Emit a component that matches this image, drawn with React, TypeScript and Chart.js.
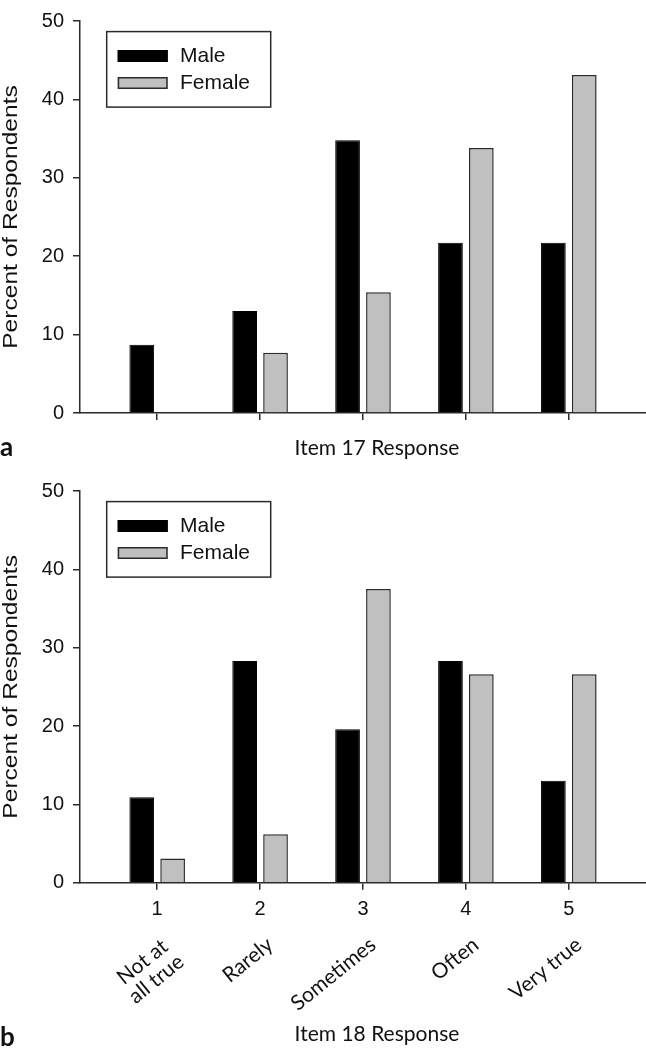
import React, { useEffect, useRef } from 'react';
import { Chart, registerables } from 'chart.js';

Chart.register(...registerables);

// ---------- data ----------
const responseCodes = [1, 2, 3, 4, 5];
const tickNumbers = ['1', '2', '3', '4', '5'];
const responseLabels = [['Not at', 'all true'], ['Rarely'], ['Sometimes'], ['Often'], ['Very true']];
const seriesNames = ['Male', 'Female'];
const male17 = [8.7, 13.0, 34.8, 21.7, 21.7];
const female17 = [0, 7.7, 15.4, 33.8, 43.1];
const male18 = [10.9, 28.3, 19.6, 28.3, 13.0];
const female18 = [3.1, 6.2, 37.5, 26.6, 26.6];
const yTicks = [0, 10, 20, 30, 40, 50];
const yTitle = 'Percent of Respondents';
const xTitle17 = 'Item 17 Response';
const xTitle18 = 'Item 18 Response';

// ---------- styles ----------
const MALE_FILL = '#000000';
const FEMALE_FILL = '#c0c0c0';
const BORDER = '#2b2b2b';
const AXIS = '#2b2b2b';
const TEXT = '#111111';
const ARIAL = '"Liberation Sans", Arial, sans-serif';
const CALIBRI = 'Lato, "Open Sans", sans-serif';

const decorPlugin = {
  id: 'decor',
  afterDraw(chart: any, _args: any, o: any) {
    const ctx = chart.ctx;
    const ca = chart.chartArea;
    const xs = chart.scales.x;
    const ys = chart.scales.y;
    ctx.save();

    // legend box
    const bx = ca.left + 26.7;
    const by = ys.getPixelForValue(50) + 10.6;
    ctx.lineWidth = 1.5;
    ctx.strokeStyle = AXIS;
    ctx.strokeRect(bx, by, 164, 75.5);
    chart.data.datasets.forEach((ds: any, i: number) => {
      const sy = by + 18.4 + i * 27;
      ctx.fillStyle = ds.backgroundColor;
      ctx.fillRect(bx + 11, sy, 50, 12);
      ctx.strokeStyle = ds.borderColor;
      ctx.lineWidth = 1.5;
      ctx.strokeRect(bx + 11.75, sy + 0.75, 48.5, 10.5);
      ctx.fillStyle = TEXT;
      ctx.font = `21px ${ARIAL}`;
      ctx.textAlign = 'left';
      ctx.textBaseline = 'middle';
      ctx.fillText(ds.label, bx + 73.3, sy + 6.5);
    });

    // y title (stretched along its length)
    ctx.save();
    ctx.translate(o.yTitleX, (ca.top + ca.bottom) / 2);
    ctx.rotate(-Math.PI / 2);
    ctx.scale(1.17, 1);
    ctx.font = `21px ${ARIAL}`;
    ctx.fillStyle = TEXT;
    ctx.textAlign = 'center';
    ctx.textBaseline = 'middle';
    ctx.fillText(yTitle, 0, 0);
    ctx.restore();

    // rotated category labels
    if (o.catLabels) {
      const th = (o.angle * Math.PI) / 180;
      ctx.font = `21px ${CALIBRI}`;
      ctx.fillStyle = TEXT;
      responseLabels.forEach((lines, i) => {
        const px = xs.getPixelForValue(responseCodes[i]) + o.catDx;
        const maxW = Math.max(...lines.map((l) => ctx.measureText(l).width));
        ctx.save();
        ctx.translate(px, o.catY);
        ctx.rotate(-th);
        ctx.textAlign = 'center';
        ctx.textBaseline = 'middle';
        lines.forEach((l, j) => ctx.fillText(l, -maxW / 2, j * o.catLh));
        ctx.restore();
      });
    }

    // x title
    ctx.font = `21px ${CALIBRI}`;
    ctx.fillStyle = TEXT;
    ctx.textAlign = 'center';
    ctx.textBaseline = 'alphabetic';
    ctx.fillText(o.xTitle, o.xTitleX, o.xTitleY);

    // panel label
    ctx.font = `bold 26px ${CALIBRI}`;
    ctx.textAlign = 'left';
    ctx.fillText(o.panel, 0, o.panelY);

    ctx.restore();
  },
};

function buildConfig(male: number[], female: number[], p: any) {
  return {
    type: 'bar',
    data: {
      datasets: [
        {
          label: seriesNames[0],
          data: responseCodes.map((c, i) => ({ x: c, y: male[i] })),
          backgroundColor: MALE_FILL,
          borderColor: '#000000',
          borderWidth: 1,
          categoryPercentage: 0.6,
          barPercentage: 0.8,
        },
        {
          label: seriesNames[1],
          data: responseCodes.map((c, i) => ({ x: c, y: female[i] })),
          backgroundColor: FEMALE_FILL,
          borderColor: BORDER,
          borderWidth: 1.5,
          categoryPercentage: 0.6,
          barPercentage: 0.8,
        },
      ],
    },
    options: {
      responsive: false,
      maintainAspectRatio: false,
      animation: false,
      layout: { padding: { top: p.padTop, left: 0, right: 0, bottom: 0 } },
      plugins: {
        legend: { display: false },
        tooltip: { enabled: false },
        decor: p.decor,
      },
      scales: {
        x: {
          type: 'linear',
          min: 0.25,
          max: 5.75,
          offset: false,
          afterBuildTicks: (s: any) => {
            s.ticks = responseCodes.map((v) => ({ value: v }));
          },
          afterFit: (s: any) => {
            s.height = p.xHeight;
          },
          ticks: {
            display: p.showNumbers,
            autoSkip: false,
            maxRotation: 0,
            padding: 8,
            color: TEXT,
            font: { family: ARIAL, size: 20 },
            callback: (v: number) => tickNumbers[responseCodes.indexOf(v)] ?? '',
          },
          grid: {
            display: true,
            offset: false,
            drawOnChartArea: false,
            drawTicks: true,
            tickLength: 7,
            color: AXIS,
            lineWidth: 1.5,
          },
          border: { display: true, color: AXIS, width: 1.5 },
        },
        y: {
          min: 0,
          max: 50,
          afterBuildTicks: (s: any) => {
            s.ticks = yTicks.map((v) => ({ value: v }));
          },
          afterFit: (s: any) => {
            s.width = 80;
          },
          ticks: {
            padding: 9,
            color: TEXT,
            font: { family: ARIAL, size: 20 },
          },
          grid: {
            display: true,
            drawOnChartArea: false,
            drawTicks: true,
            tickLength: 7,
            color: AXIS,
            lineWidth: 1.5,
          },
          border: { display: true, color: AXIS, width: 1.5 },
        },
      },
    },
    plugins: [decorPlugin],
  } as any;
}

function Panel({ top, height, config }: { top: number; height: number; config: any }) {
  const ref = useRef<HTMLCanvasElement | null>(null);
  useEffect(() => {
    if (!ref.current) return;
    const chart = new Chart(ref.current, config);
    return () => chart.destroy();
  }, []);
  return (
    <div style={{ position: 'absolute', left: 0, top, width: 646, height }}>
      <canvas ref={ref} width={646} height={height} style={{ width: 646, height, display: 'block' }} />
    </div>
  );
}

export default function App() {
  const topConfig = buildConfig(male17, female17, {
    padTop: 12.7,
    xHeight: 470 - 413,
    showNumbers: false,
    decor: {
      yTitleX: 11,
      catLabels: false,
      xTitle: xTitle17,
      xTitleX: 377,
      xTitleY: 455,
      panel: 'a',
      panelY: 456,
    },
  });
  const bottomConfig = buildConfig(male18, female18, {
    padTop: 20,
    xHeight: 581 - 412.7,
    showNumbers: true,
    decor: {
      yTitleX: 11,
      catLabels: true,
      angle: 39,
      catDx: 10,
      catY: 472,
      catLh: 22,
      xTitle: xTitle18,
      xTitleX: 377,
      xTitleY: 571,
      panel: 'b',
      panelY: 576,
    },
  });
  return (
    <div style={{ position: 'absolute', left: 0, top: 0, width: 646, height: 1051, background: '#fff' }}>
      <Panel top={0} height={470} config={topConfig} />
      <Panel top={470} height={581} config={bottomConfig} />
    </div>
  );
}
